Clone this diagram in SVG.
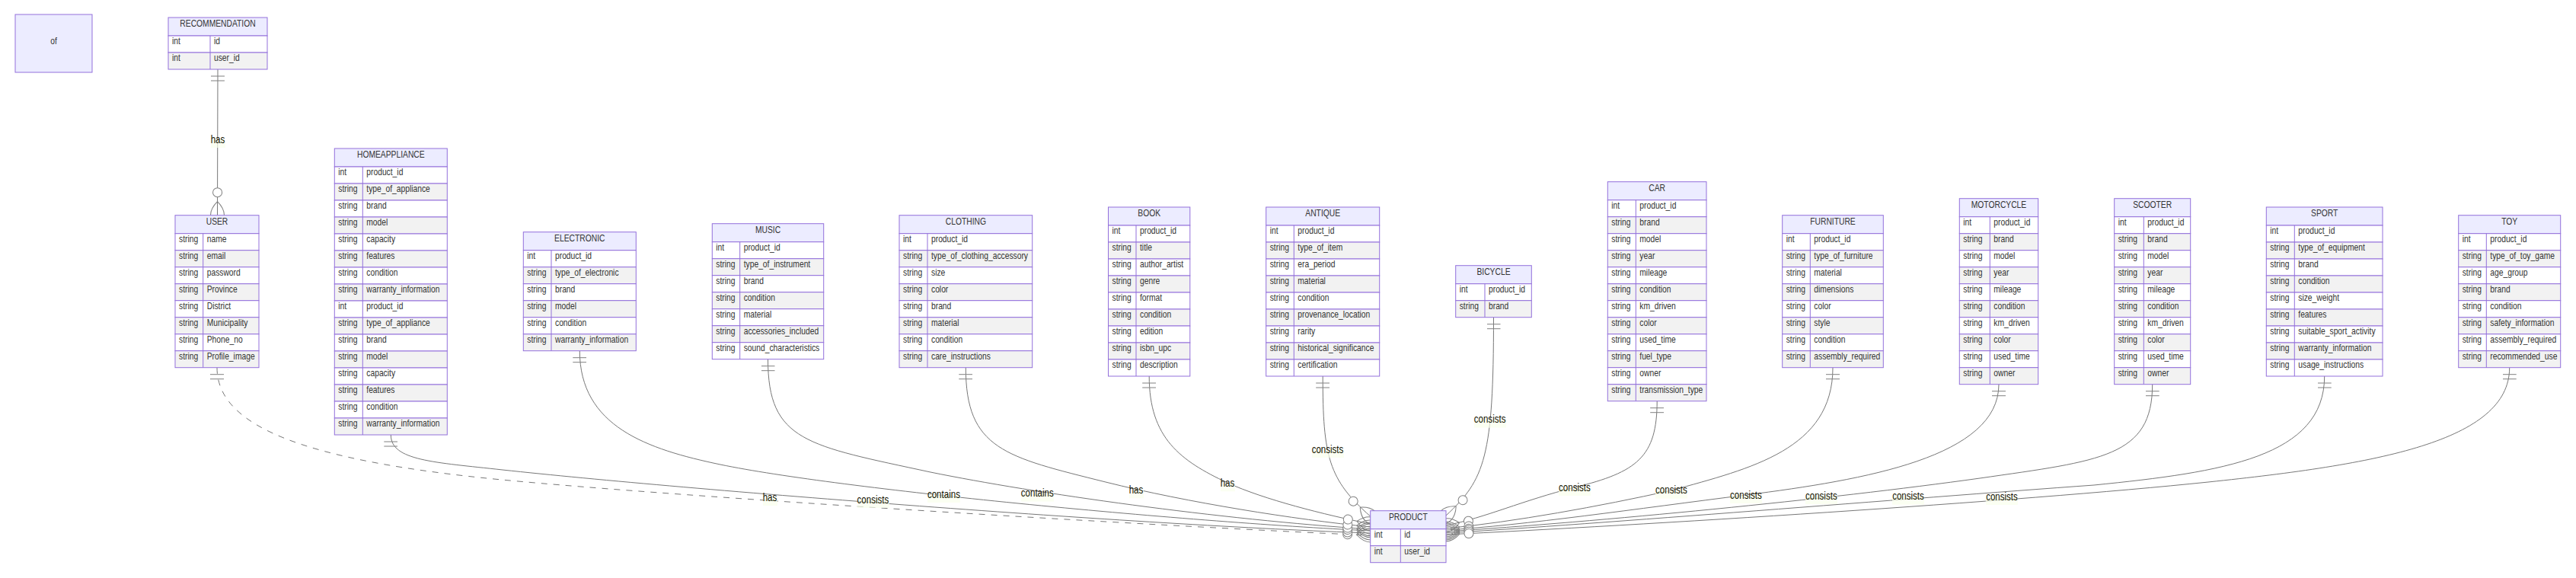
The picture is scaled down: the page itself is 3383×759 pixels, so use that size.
<svg xmlns="http://www.w3.org/2000/svg" width="3383" height="759" viewBox="0 0 3383 759">
<style>
.hd{fill:#ECECFF;stroke:#9370DB;stroke-width:1}
.o{fill:#ffffff;stroke:#9370DB;stroke-width:1}
.e{fill:#f2f2f2;stroke:#9370DB;stroke-width:1}
.dv{stroke:#9370DB;stroke-width:1}
text{font-family:"Liberation Sans",Arial,sans-serif;font-size:12.5px;fill:#333333}
.c{text-anchor:middle}
.rel{stroke:#777777;stroke-width:1;fill:none}
.dash{stroke-dasharray:8,8}
.lb{fill:#f9ffec;opacity:0.7}
.lt{font-size:14px;text-anchor:middle;fill:#131300}
</style>
<defs>
<marker id="oneStart" refX="0" refY="9" markerWidth="18" markerHeight="18" orient="auto" markerUnits="userSpaceOnUse"><path d="M9,0 L9,18 M15,0 L15,18" stroke="gray" fill="none"/></marker>
<marker id="zeroManyEnd" refX="39" refY="18" markerWidth="57" markerHeight="36" orient="auto" markerUnits="userSpaceOnUse"><circle cx="9" cy="18" r="6" stroke="gray" fill="white"/><path d="M21,18 Q39,0 57,18 Q39,36 21,18" stroke="gray" fill="none"/></marker>
</defs>
<rect width="3383" height="759" fill="#ffffff"/>
<g id="connectors">
<path class="rel" d="M286,91 L285.5,282.7" marker-start="url(#oneStart)" marker-end="url(#zeroManyEnd)"/>
<path class="rel dash" d="M285,482.7 C285,560 400,605 659,630 C900,653 1500,690 1799.7,703" marker-start="url(#oneStart)" marker-end="url(#zeroManyEnd)"/>
<path class="rel" d="M513.3,571 C513.3,605 570,607 660,617 C900,643 1500,690 1799.7,700" marker-start="url(#oneStart)" marker-end="url(#zeroManyEnd)"/>
<path class="rel" d="M761.3,460.7 C761.3,560 850,590 946,610 C1100,642 1550,685 1799.7,697" marker-start="url(#oneStart)" marker-end="url(#zeroManyEnd)"/>
<path class="rel" d="M1008.5,471.7 C1008.5,580 1060,585 1222,620 C1360,648 1600,682 1799.7,695" marker-start="url(#oneStart)" marker-end="url(#zeroManyEnd)"/>
<path class="rel" d="M1268.3,482.7 C1268.3,590 1320,600 1452,633 C1560,660 1700,682 1799.7,692" marker-start="url(#oneStart)" marker-end="url(#zeroManyEnd)"/>
<path class="rel" d="M1509.2,494 C1509.2,575 1550,605 1612,634 C1660,656 1740,676 1799.7,688" marker-start="url(#oneStart)" marker-end="url(#zeroManyEnd)"/>
<path class="rel" d="M1737.2,494 C1737.2,600 1745,630 1799.7,678" marker-start="url(#oneStart)" marker-end="url(#zeroManyEnd)"/>
<path class="rel" d="M1961.5,416.7 C1961.5,600 1950,630 1899,677" marker-start="url(#oneStart)" marker-end="url(#zeroManyEnd)"/>
<path class="rel" d="M2176.2,526.7 C2176.2,600 2150,620 2068,640 C2000,657 1950,680 1899,690" marker-start="url(#oneStart)" marker-end="url(#zeroManyEnd)"/>
<path class="rel" d="M2407,482.7 C2407,590 2300,615 2195,644 C2100,665 1990,685 1899,694" marker-start="url(#oneStart)" marker-end="url(#zeroManyEnd)"/>
<path class="rel" d="M2625,504.7 C2625,600 2450,630 2293,650 C2150,668 2000,690 1899,696" marker-start="url(#oneStart)" marker-end="url(#zeroManyEnd)"/>
<path class="rel" d="M2826.7,504.7 C2826.7,600 2760,605 2600,628 C2400,656 2100,685 1899,698" marker-start="url(#oneStart)" marker-end="url(#zeroManyEnd)"/>
<path class="rel" d="M3052.7,494 C3052.7,600 2920,620 2750,637 C2500,655 2100,688 1899,700" marker-start="url(#oneStart)" marker-end="url(#zeroManyEnd)"/>
<path class="rel" d="M3295.7,482.7 C3295.7,580 3120,610 2900,633 C2650,659 2150,690 1899,702" marker-start="url(#oneStart)" marker-end="url(#zeroManyEnd)"/>
<g id="labels">
<rect class="lb" x="277" y="183" width="19" height="11"/><text class="lt" transform="translate(286,187.7) scale(0.825,1)">has</text>
<rect class="lb" x="1002" y="653" width="19" height="11"/><text class="lt" transform="translate(1011,657.5) scale(0.825,1)">has</text>
<rect class="lb" x="1126" y="656" width="42" height="11"/><text class="lt" transform="translate(1146.4,660.5) scale(0.825,1)">consists</text>
<rect class="lb" x="1218" y="649" width="43" height="11"/><text class="lt" transform="translate(1239.4,653.5) scale(0.825,1)">contains</text>
<rect class="lb" x="1341" y="647.5" width="43" height="11"/><text class="lt" transform="translate(1362.3,652) scale(0.825,1)">contains</text>
<rect class="lb" x="1483" y="643.3" width="19" height="11"/><text class="lt" transform="translate(1492,647.8) scale(0.825,1)">has</text>
<rect class="lb" x="1603" y="634.3" width="19" height="11"/><text class="lt" transform="translate(1612,638.8) scale(0.825,1)">has</text>
<rect class="lb" x="1723" y="590" width="42" height="11"/><text class="lt" transform="translate(1743.5,594.5) scale(0.825,1)">consists</text>
<rect class="lb" x="1936" y="550.7" width="42" height="11"/><text class="lt" transform="translate(1956.6,555.2) scale(0.825,1)">consists</text>
<rect class="lb" x="2047" y="640" width="42" height="11"/><text class="lt" transform="translate(2067.9,644.5) scale(0.825,1)">consists</text>
<rect class="lb" x="2174" y="643.7" width="42" height="11"/><text class="lt" transform="translate(2194.9,648.2) scale(0.825,1)">consists</text>
<rect class="lb" x="2272" y="650" width="42" height="11"/><text class="lt" transform="translate(2292.9,654.5) scale(0.825,1)">consists</text>
<rect class="lb" x="2371" y="651" width="42" height="11"/><text class="lt" transform="translate(2391.8,655.5) scale(0.825,1)">consists</text>
<rect class="lb" x="2485" y="651.7" width="42" height="11"/><text class="lt" transform="translate(2506,656.2) scale(0.825,1)">consists</text>
<rect class="lb" x="2608" y="652" width="42" height="11"/><text class="lt" transform="translate(2629,656.5) scale(0.825,1)">consists</text>
</g>
</g>
<g id="of">
<rect class="hd" x="20" y="19" width="101" height="76"/>
<text class="c" transform="translate(70.5,57.5) scale(0.825,1)">of</text>
</g>
<g id="recommendation" transform="translate(221,23)">
<rect class="hd" width="130" height="24"/>
<rect class="o" y="24" width="130" height="22"/><rect class="e" y="46" width="130" height="22"/>
<line class="dv" x1="55" y1="24" x2="55" y2="68"/>
<g transform="scale(0.825,1)">
<text class="c" x="78.79" y="12.5">RECOMMENDATION</text>
<text x="6.06" y="35.5">int</text><text x="72.73" y="35.5">id</text>
<text x="6.06" y="57.5">int</text><text x="72.73" y="57.5">user_id</text>
</g>
</g>
<g id="user" transform="translate(230,282.7)">
<rect class="hd" width="110" height="24"/>
<rect class="o" y="24" width="110" height="22"/><rect class="e" y="46" width="110" height="22"/><rect class="o" y="68" width="110" height="22"/><rect class="e" y="90" width="110" height="22"/><rect class="o" y="112" width="110" height="22"/><rect class="e" y="134" width="110" height="22"/><rect class="o" y="156" width="110" height="22"/><rect class="e" y="178" width="110" height="22"/>
<line class="dv" x1="36.7" y1="24" x2="36.7" y2="200"/>
<g transform="scale(0.825,1)">
<text class="c" x="66.67" y="12.5">USER</text>
<text x="6.06" y="35.5">string</text><text x="50.55" y="35.5">name</text>
<text x="6.06" y="57.5">string</text><text x="50.55" y="57.5">email</text>
<text x="6.06" y="79.5">string</text><text x="50.55" y="79.5">password</text>
<text x="6.06" y="101.5">string</text><text x="50.55" y="101.5">Province</text>
<text x="6.06" y="123.5">string</text><text x="50.55" y="123.5">District</text>
<text x="6.06" y="145.5">string</text><text x="50.55" y="145.5">Municipality</text>
<text x="6.06" y="167.5">string</text><text x="50.55" y="167.5">Phone_no</text>
<text x="6.06" y="189.5">string</text><text x="50.55" y="189.5">Profile_image</text>
</g>
</g>
<g id="homeappliance" transform="translate(439.3,195)">
<rect class="hd" width="148" height="24"/>
<rect class="o" y="24" width="148" height="22"/><rect class="e" y="46" width="148" height="22"/><rect class="o" y="68" width="148" height="22"/><rect class="e" y="90" width="148" height="22"/><rect class="o" y="112" width="148" height="22"/><rect class="e" y="134" width="148" height="22"/><rect class="o" y="156" width="148" height="22"/><rect class="e" y="178" width="148" height="22"/><rect class="o" y="200" width="148" height="22"/><rect class="e" y="222" width="148" height="22"/><rect class="o" y="244" width="148" height="22"/><rect class="e" y="266" width="148" height="22"/><rect class="o" y="288" width="148" height="22"/><rect class="e" y="310" width="148" height="22"/><rect class="o" y="332" width="148" height="22"/><rect class="e" y="354" width="148" height="22"/>
<line class="dv" x1="37" y1="24" x2="37" y2="376"/>
<g transform="scale(0.825,1)">
<text class="c" x="89.7" y="12.5">HOMEAPPLIANCE</text>
<text x="6.06" y="35.5">int</text><text x="50.91" y="35.5">product_id</text>
<text x="6.06" y="57.5">string</text><text x="50.91" y="57.5">type_of_appliance</text>
<text x="6.06" y="79.5">string</text><text x="50.91" y="79.5">brand</text>
<text x="6.06" y="101.5">string</text><text x="50.91" y="101.5">model</text>
<text x="6.06" y="123.5">string</text><text x="50.91" y="123.5">capacity</text>
<text x="6.06" y="145.5">string</text><text x="50.91" y="145.5">features</text>
<text x="6.06" y="167.5">string</text><text x="50.91" y="167.5">condition</text>
<text x="6.06" y="189.5">string</text><text x="50.91" y="189.5">warranty_information</text>
<text x="6.06" y="211.5">int</text><text x="50.91" y="211.5">product_id</text>
<text x="6.06" y="233.5">string</text><text x="50.91" y="233.5">type_of_appliance</text>
<text x="6.06" y="255.5">string</text><text x="50.91" y="255.5">brand</text>
<text x="6.06" y="277.5">string</text><text x="50.91" y="277.5">model</text>
<text x="6.06" y="299.5">string</text><text x="50.91" y="299.5">capacity</text>
<text x="6.06" y="321.5">string</text><text x="50.91" y="321.5">features</text>
<text x="6.06" y="343.5">string</text><text x="50.91" y="343.5">condition</text>
<text x="6.06" y="365.5">string</text><text x="50.91" y="365.5">warranty_information</text>
</g>
</g>
<g id="electronic" transform="translate(687.3,304.7)">
<rect class="hd" width="148" height="24"/>
<rect class="o" y="24" width="148" height="22"/><rect class="e" y="46" width="148" height="22"/><rect class="o" y="68" width="148" height="22"/><rect class="e" y="90" width="148" height="22"/><rect class="o" y="112" width="148" height="22"/><rect class="e" y="134" width="148" height="22"/>
<line class="dv" x1="36.7" y1="24" x2="36.7" y2="156"/>
<g transform="scale(0.825,1)">
<text class="c" x="89.7" y="12.5">ELECTRONIC</text>
<text x="6.06" y="35.5">int</text><text x="50.55" y="35.5">product_id</text>
<text x="6.06" y="57.5">string</text><text x="50.55" y="57.5">type_of_electronic</text>
<text x="6.06" y="79.5">string</text><text x="50.55" y="79.5">brand</text>
<text x="6.06" y="101.5">string</text><text x="50.55" y="101.5">model</text>
<text x="6.06" y="123.5">string</text><text x="50.55" y="123.5">condition</text>
<text x="6.06" y="145.5">string</text><text x="50.55" y="145.5">warranty_information</text>
</g>
</g>
<g id="music" transform="translate(935.3,293.7)">
<rect class="hd" width="146.4" height="24"/>
<rect class="o" y="24" width="146.4" height="22"/><rect class="e" y="46" width="146.4" height="22"/><rect class="o" y="68" width="146.4" height="22"/><rect class="e" y="90" width="146.4" height="22"/><rect class="o" y="112" width="146.4" height="22"/><rect class="e" y="134" width="146.4" height="22"/><rect class="o" y="156" width="146.4" height="22"/>
<line class="dv" x1="36.4" y1="24" x2="36.4" y2="178"/>
<g transform="scale(0.825,1)">
<text class="c" x="88.73" y="12.5">MUSIC</text>
<text x="6.06" y="35.5">int</text><text x="50.18" y="35.5">product_id</text>
<text x="6.06" y="57.5">string</text><text x="50.18" y="57.5">type_of_instrument</text>
<text x="6.06" y="79.5">string</text><text x="50.18" y="79.5">brand</text>
<text x="6.06" y="101.5">string</text><text x="50.18" y="101.5">condition</text>
<text x="6.06" y="123.5">string</text><text x="50.18" y="123.5">material</text>
<text x="6.06" y="145.5">string</text><text x="50.18" y="145.5">accessories_included</text>
<text x="6.06" y="167.5">string</text><text x="50.18" y="167.5">sound_characteristics</text>
</g>
</g>
<g id="clothing" transform="translate(1181,282.7)">
<rect class="hd" width="174.7" height="24"/>
<rect class="o" y="24" width="174.7" height="22"/><rect class="e" y="46" width="174.7" height="22"/><rect class="o" y="68" width="174.7" height="22"/><rect class="e" y="90" width="174.7" height="22"/><rect class="o" y="112" width="174.7" height="22"/><rect class="e" y="134" width="174.7" height="22"/><rect class="o" y="156" width="174.7" height="22"/><rect class="e" y="178" width="174.7" height="22"/>
<line class="dv" x1="37" y1="24" x2="37" y2="200"/>
<g transform="scale(0.825,1)">
<text class="c" x="105.88" y="12.5">CLOTHING</text>
<text x="6.06" y="35.5">int</text><text x="50.91" y="35.5">product_id</text>
<text x="6.06" y="57.5">string</text><text x="50.91" y="57.5">type_of_clothing_accessory</text>
<text x="6.06" y="79.5">string</text><text x="50.91" y="79.5">size</text>
<text x="6.06" y="101.5">string</text><text x="50.91" y="101.5">color</text>
<text x="6.06" y="123.5">string</text><text x="50.91" y="123.5">brand</text>
<text x="6.06" y="145.5">string</text><text x="50.91" y="145.5">material</text>
<text x="6.06" y="167.5">string</text><text x="50.91" y="167.5">condition</text>
<text x="6.06" y="189.5">string</text><text x="50.91" y="189.5">care_instructions</text>
</g>
</g>
<g id="book" transform="translate(1455.5,272)">
<rect class="hd" width="107.3" height="24"/>
<rect class="o" y="24" width="107.3" height="22"/><rect class="e" y="46" width="107.3" height="22"/><rect class="o" y="68" width="107.3" height="22"/><rect class="e" y="90" width="107.3" height="22"/><rect class="o" y="112" width="107.3" height="22"/><rect class="e" y="134" width="107.3" height="22"/><rect class="o" y="156" width="107.3" height="22"/><rect class="e" y="178" width="107.3" height="22"/><rect class="o" y="200" width="107.3" height="22"/>
<line class="dv" x1="36.5" y1="24" x2="36.5" y2="222"/>
<g transform="scale(0.825,1)">
<text class="c" x="65.03" y="12.5">BOOK</text>
<text x="6.06" y="35.5">int</text><text x="50.3" y="35.5">product_id</text>
<text x="6.06" y="57.5">string</text><text x="50.3" y="57.5">title</text>
<text x="6.06" y="79.5">string</text><text x="50.3" y="79.5">author_artist</text>
<text x="6.06" y="101.5">string</text><text x="50.3" y="101.5">genre</text>
<text x="6.06" y="123.5">string</text><text x="50.3" y="123.5">format</text>
<text x="6.06" y="145.5">string</text><text x="50.3" y="145.5">condition</text>
<text x="6.06" y="167.5">string</text><text x="50.3" y="167.5">edition</text>
<text x="6.06" y="189.5">string</text><text x="50.3" y="189.5">isbn_upc</text>
<text x="6.06" y="211.5">string</text><text x="50.3" y="211.5">description</text>
</g>
</g>
<g id="antique" transform="translate(1662.7,272)">
<rect class="hd" width="149" height="24"/>
<rect class="o" y="24" width="149" height="22"/><rect class="e" y="46" width="149" height="22"/><rect class="o" y="68" width="149" height="22"/><rect class="e" y="90" width="149" height="22"/><rect class="o" y="112" width="149" height="22"/><rect class="e" y="134" width="149" height="22"/><rect class="o" y="156" width="149" height="22"/><rect class="e" y="178" width="149" height="22"/><rect class="o" y="200" width="149" height="22"/>
<line class="dv" x1="36.6" y1="24" x2="36.6" y2="222"/>
<g transform="scale(0.825,1)">
<text class="c" x="90.3" y="12.5">ANTIQUE</text>
<text x="6.06" y="35.5">int</text><text x="50.42" y="35.5">product_id</text>
<text x="6.06" y="57.5">string</text><text x="50.42" y="57.5">type_of_item</text>
<text x="6.06" y="79.5">string</text><text x="50.42" y="79.5">era_period</text>
<text x="6.06" y="101.5">string</text><text x="50.42" y="101.5">material</text>
<text x="6.06" y="123.5">string</text><text x="50.42" y="123.5">condition</text>
<text x="6.06" y="145.5">string</text><text x="50.42" y="145.5">provenance_location</text>
<text x="6.06" y="167.5">string</text><text x="50.42" y="167.5">rarity</text>
<text x="6.06" y="189.5">string</text><text x="50.42" y="189.5">historical_significance</text>
<text x="6.06" y="211.5">string</text><text x="50.42" y="211.5">certification</text>
</g>
</g>
<g id="bicycle" transform="translate(1911.7,348.7)">
<rect class="hd" width="99.6" height="24"/>
<rect class="o" y="24" width="99.6" height="22"/><rect class="e" y="46" width="99.6" height="22"/>
<line class="dv" x1="38.3" y1="24" x2="38.3" y2="68"/>
<g transform="scale(0.825,1)">
<text class="c" x="60.36" y="12.5">BICYCLE</text>
<text x="6.06" y="35.5">int</text><text x="52.48" y="35.5">product_id</text>
<text x="6.06" y="57.5">string</text><text x="52.48" y="57.5">brand</text>
</g>
</g>
<g id="car" transform="translate(2111.3,238.7)">
<rect class="hd" width="129.7" height="24"/>
<rect class="o" y="24" width="129.7" height="22"/><rect class="e" y="46" width="129.7" height="22"/><rect class="o" y="68" width="129.7" height="22"/><rect class="e" y="90" width="129.7" height="22"/><rect class="o" y="112" width="129.7" height="22"/><rect class="e" y="134" width="129.7" height="22"/><rect class="o" y="156" width="129.7" height="22"/><rect class="e" y="178" width="129.7" height="22"/><rect class="o" y="200" width="129.7" height="22"/><rect class="e" y="222" width="129.7" height="22"/><rect class="o" y="244" width="129.7" height="22"/><rect class="e" y="266" width="129.7" height="22"/>
<line class="dv" x1="37" y1="24" x2="37" y2="288"/>
<g transform="scale(0.825,1)">
<text class="c" x="78.61" y="12.5">CAR</text>
<text x="6.06" y="35.5">int</text><text x="50.91" y="35.5">product_id</text>
<text x="6.06" y="57.5">string</text><text x="50.91" y="57.5">brand</text>
<text x="6.06" y="79.5">string</text><text x="50.91" y="79.5">model</text>
<text x="6.06" y="101.5">string</text><text x="50.91" y="101.5">year</text>
<text x="6.06" y="123.5">string</text><text x="50.91" y="123.5">mileage</text>
<text x="6.06" y="145.5">string</text><text x="50.91" y="145.5">condition</text>
<text x="6.06" y="167.5">string</text><text x="50.91" y="167.5">km_driven</text>
<text x="6.06" y="189.5">string</text><text x="50.91" y="189.5">color</text>
<text x="6.06" y="211.5">string</text><text x="50.91" y="211.5">used_time</text>
<text x="6.06" y="233.5">string</text><text x="50.91" y="233.5">fuel_type</text>
<text x="6.06" y="255.5">string</text><text x="50.91" y="255.5">owner</text>
<text x="6.06" y="277.5">string</text><text x="50.91" y="277.5">transmission_type</text>
</g>
</g>
<g id="furniture" transform="translate(2340.7,282.7)">
<rect class="hd" width="132.6" height="24"/>
<rect class="o" y="24" width="132.6" height="22"/><rect class="e" y="46" width="132.6" height="22"/><rect class="o" y="68" width="132.6" height="22"/><rect class="e" y="90" width="132.6" height="22"/><rect class="o" y="112" width="132.6" height="22"/><rect class="e" y="134" width="132.6" height="22"/><rect class="o" y="156" width="132.6" height="22"/><rect class="e" y="178" width="132.6" height="22"/>
<line class="dv" x1="36.6" y1="24" x2="36.6" y2="200"/>
<g transform="scale(0.825,1)">
<text class="c" x="80.36" y="12.5">FURNITURE</text>
<text x="6.06" y="35.5">int</text><text x="50.42" y="35.5">product_id</text>
<text x="6.06" y="57.5">string</text><text x="50.42" y="57.5">type_of_furniture</text>
<text x="6.06" y="79.5">string</text><text x="50.42" y="79.5">material</text>
<text x="6.06" y="101.5">string</text><text x="50.42" y="101.5">dimensions</text>
<text x="6.06" y="123.5">string</text><text x="50.42" y="123.5">color</text>
<text x="6.06" y="145.5">string</text><text x="50.42" y="145.5">style</text>
<text x="6.06" y="167.5">string</text><text x="50.42" y="167.5">condition</text>
<text x="6.06" y="189.5">string</text><text x="50.42" y="189.5">assembly_required</text>
</g>
</g>
<g id="motorcycle" transform="translate(2573.3,260.7)">
<rect class="hd" width="103.4" height="24"/>
<rect class="o" y="24" width="103.4" height="22"/><rect class="e" y="46" width="103.4" height="22"/><rect class="o" y="68" width="103.4" height="22"/><rect class="e" y="90" width="103.4" height="22"/><rect class="o" y="112" width="103.4" height="22"/><rect class="e" y="134" width="103.4" height="22"/><rect class="o" y="156" width="103.4" height="22"/><rect class="e" y="178" width="103.4" height="22"/><rect class="o" y="200" width="103.4" height="22"/><rect class="e" y="222" width="103.4" height="22"/>
<line class="dv" x1="40" y1="24" x2="40" y2="244"/>
<g transform="scale(0.825,1)">
<text class="c" x="62.67" y="12.5">MOTORCYCLE</text>
<text x="6.06" y="35.5">int</text><text x="54.55" y="35.5">product_id</text>
<text x="6.06" y="57.5">string</text><text x="54.55" y="57.5">brand</text>
<text x="6.06" y="79.5">string</text><text x="54.55" y="79.5">model</text>
<text x="6.06" y="101.5">string</text><text x="54.55" y="101.5">year</text>
<text x="6.06" y="123.5">string</text><text x="54.55" y="123.5">mileage</text>
<text x="6.06" y="145.5">string</text><text x="54.55" y="145.5">condition</text>
<text x="6.06" y="167.5">string</text><text x="54.55" y="167.5">km_driven</text>
<text x="6.06" y="189.5">string</text><text x="54.55" y="189.5">color</text>
<text x="6.06" y="211.5">string</text><text x="54.55" y="211.5">used_time</text>
<text x="6.06" y="233.5">string</text><text x="54.55" y="233.5">owner</text>
</g>
</g>
<g id="scooter" transform="translate(2776.7,260.7)">
<rect class="hd" width="100" height="24"/>
<rect class="o" y="24" width="100" height="22"/><rect class="e" y="46" width="100" height="22"/><rect class="o" y="68" width="100" height="22"/><rect class="e" y="90" width="100" height="22"/><rect class="o" y="112" width="100" height="22"/><rect class="e" y="134" width="100" height="22"/><rect class="o" y="156" width="100" height="22"/><rect class="e" y="178" width="100" height="22"/><rect class="o" y="200" width="100" height="22"/><rect class="e" y="222" width="100" height="22"/>
<line class="dv" x1="38.6" y1="24" x2="38.6" y2="244"/>
<g transform="scale(0.825,1)">
<text class="c" x="60.61" y="12.5">SCOOTER</text>
<text x="6.06" y="35.5">int</text><text x="52.85" y="35.5">product_id</text>
<text x="6.06" y="57.5">string</text><text x="52.85" y="57.5">brand</text>
<text x="6.06" y="79.5">string</text><text x="52.85" y="79.5">model</text>
<text x="6.06" y="101.5">string</text><text x="52.85" y="101.5">year</text>
<text x="6.06" y="123.5">string</text><text x="52.85" y="123.5">mileage</text>
<text x="6.06" y="145.5">string</text><text x="52.85" y="145.5">condition</text>
<text x="6.06" y="167.5">string</text><text x="52.85" y="167.5">km_driven</text>
<text x="6.06" y="189.5">string</text><text x="52.85" y="189.5">color</text>
<text x="6.06" y="211.5">string</text><text x="52.85" y="211.5">used_time</text>
<text x="6.06" y="233.5">string</text><text x="52.85" y="233.5">owner</text>
</g>
</g>
<g id="sport" transform="translate(2976.3,272)">
<rect class="hd" width="152.7" height="24"/>
<rect class="o" y="24" width="152.7" height="22"/><rect class="e" y="46" width="152.7" height="22"/><rect class="o" y="68" width="152.7" height="22"/><rect class="e" y="90" width="152.7" height="22"/><rect class="o" y="112" width="152.7" height="22"/><rect class="e" y="134" width="152.7" height="22"/><rect class="o" y="156" width="152.7" height="22"/><rect class="e" y="178" width="152.7" height="22"/><rect class="o" y="200" width="152.7" height="22"/>
<line class="dv" x1="37" y1="24" x2="37" y2="222"/>
<g transform="scale(0.825,1)">
<text class="c" x="92.55" y="12.5">SPORT</text>
<text x="6.06" y="35.5">int</text><text x="50.91" y="35.5">product_id</text>
<text x="6.06" y="57.5">string</text><text x="50.91" y="57.5">type_of_equipment</text>
<text x="6.06" y="79.5">string</text><text x="50.91" y="79.5">brand</text>
<text x="6.06" y="101.5">string</text><text x="50.91" y="101.5">condition</text>
<text x="6.06" y="123.5">string</text><text x="50.91" y="123.5">size_weight</text>
<text x="6.06" y="145.5">string</text><text x="50.91" y="145.5">features</text>
<text x="6.06" y="167.5">string</text><text x="50.91" y="167.5">suitable_sport_activity</text>
<text x="6.06" y="189.5">string</text><text x="50.91" y="189.5">warranty_information</text>
<text x="6.06" y="211.5">string</text><text x="50.91" y="211.5">usage_instructions</text>
</g>
</g>
<g id="toy" transform="translate(3228.7,282.7)">
<rect class="hd" width="134" height="24"/>
<rect class="o" y="24" width="134" height="22"/><rect class="e" y="46" width="134" height="22"/><rect class="o" y="68" width="134" height="22"/><rect class="e" y="90" width="134" height="22"/><rect class="o" y="112" width="134" height="22"/><rect class="e" y="134" width="134" height="22"/><rect class="o" y="156" width="134" height="22"/><rect class="e" y="178" width="134" height="22"/>
<line class="dv" x1="36.6" y1="24" x2="36.6" y2="200"/>
<g transform="scale(0.825,1)">
<text class="c" x="81.21" y="12.5">TOY</text>
<text x="6.06" y="35.5">int</text><text x="50.42" y="35.5">product_id</text>
<text x="6.06" y="57.5">string</text><text x="50.42" y="57.5">type_of_toy_game</text>
<text x="6.06" y="79.5">string</text><text x="50.42" y="79.5">age_group</text>
<text x="6.06" y="101.5">string</text><text x="50.42" y="101.5">brand</text>
<text x="6.06" y="123.5">string</text><text x="50.42" y="123.5">condition</text>
<text x="6.06" y="145.5">string</text><text x="50.42" y="145.5">safety_information</text>
<text x="6.06" y="167.5">string</text><text x="50.42" y="167.5">assembly_required</text>
<text x="6.06" y="189.5">string</text><text x="50.42" y="189.5">recommended_use</text>
</g>
</g>
<g id="product" transform="translate(1799.7,670.7)">
<rect class="hd" width="99.3" height="24"/>
<rect class="o" y="24" width="99.3" height="22"/><rect class="e" y="46" width="99.3" height="22"/>
<line class="dv" x1="39.6" y1="24" x2="39.6" y2="68"/>
<g transform="scale(0.825,1)">
<text class="c" x="60.18" y="12.5">PRODUCT</text>
<text x="6.06" y="35.5">int</text><text x="54.06" y="35.5">id</text>
<text x="6.06" y="57.5">int</text><text x="54.06" y="57.5">user_id</text>
</g>
</g>
</svg>
